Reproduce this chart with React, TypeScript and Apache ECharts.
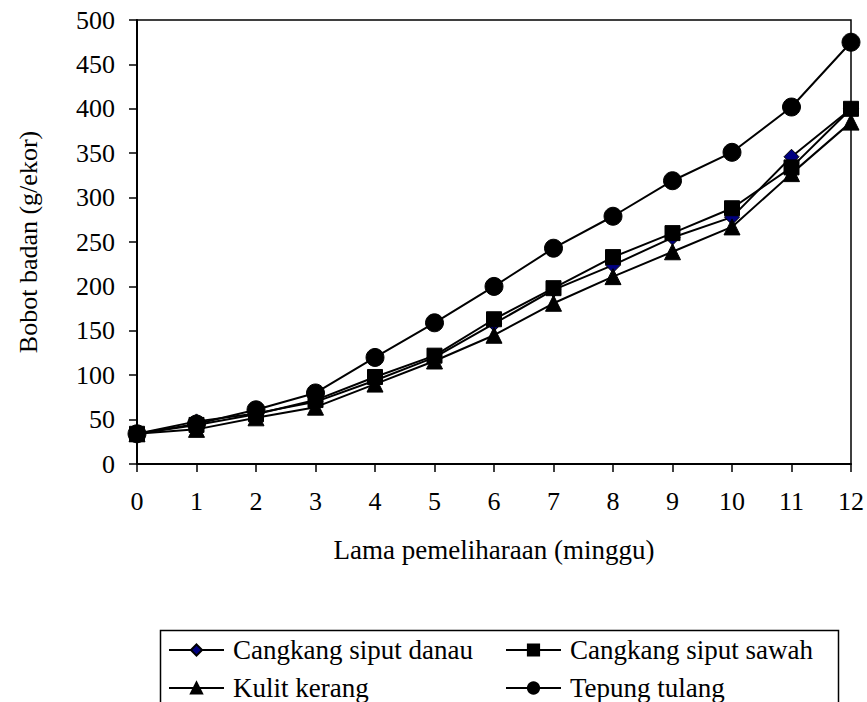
import React, { useEffect, useRef } from "react";
import * as echarts from "echarts";

const weeks = ["0", "1", "2", "3", "4", "5", "6", "7", "8", "9", "10", "11", "12"];
const danau = [34, 48, 57, 70, 94, 120, 158, 196, 224, 255, 278, 346, 400];
const sawah = [34, 44, 56, 72, 98, 122, 163, 198, 233, 260, 288, 334, 400];
const kulit = [34, 39, 52, 64, 90, 116, 145, 181, 211, 239, 267, 327, 385];
const tepung = [34, 45, 61, 80, 120, 159, 200, 243, 279, 319, 351, 402, 475];

const seriesNames = [
  "Cangkang siput danau",
  "Cangkang siput sawah",
  "Kulit kerang",
  "Tepung tulang",
];

const FONT = "'Liberation Serif', 'Times New Roman', serif";

export default function App() {
  const ref = useRef<HTMLDivElement>(null);
  useEffect(() => {
    if (!ref.current) return;
    const chart = echarts.init(ref.current, undefined, { renderer: "svg" });
    const mkSeries = (name: string, data: number[], symbol: string, size: number, fill: string) => ({
      name,
      type: "line",
      data,
      symbol,
      symbolSize: size,
      showAllSymbol: true,
      lineStyle: { color: "#000", width: 2 },
      itemStyle: { color: fill, borderColor: "#000", borderWidth: 1 },
      emphasis: { disabled: true },
    });
    const legendBase = {
      orient: "vertical",
      padding: 0,
      itemWidth: 55,
      itemHeight: 14,
      itemGap: 10,
      textStyle: { fontFamily: FONT, fontSize: 27, color: "#000", lineHeight: 28, padding: [0, 0, 0, 4] },
      selectedMode: false,
    };
    chart.setOption({
      animation: false,
      backgroundColor: "#fff",
      grid: {
        left: 137,
        right: 15,
        top: 20,
        bottom: 238,
        show: true,
        borderColor: "#000",
        borderWidth: 1.5,
        backgroundColor: "transparent",
      },
      xAxis: {
        type: "category",
        data: weeks,
        boundaryGap: false,
        name: "Lama pemeliharaan (minggu)",
        nameLocation: "middle",
        nameGap: 72,
        nameTextStyle: { fontFamily: FONT, fontSize: 27, color: "#000" },
        axisLine: { lineStyle: { color: "#000", width: 2 } },
        axisTick: { show: true, length: 8, lineStyle: { color: "#000", width: 1.5 } },
        axisLabel: { fontFamily: FONT, fontSize: 26, color: "#000", margin: 24 },
        splitLine: { show: false },
      },
      yAxis: {
        type: "value",
        min: 0,
        max: 500,
        interval: 50,
        name: "Bobot badan (g/ekor)",
        nameLocation: "middle",
        nameRotate: 90,
        nameGap: 96,
        nameTextStyle: { fontFamily: FONT, fontSize: 26, color: "#000" },
        axisLine: { show: true, lineStyle: { color: "#000", width: 2 } },
        axisTick: { show: true, length: 8, lineStyle: { color: "#000", width: 1.5 } },
        axisLabel: { fontFamily: FONT, fontSize: 26, color: "#000", margin: 22 },
        splitLine: { show: false },
      },
      legend: [
        { ...legendBase, left: 168, top: 636, data: [seriesNames[0], seriesNames[2]] },
        { ...legendBase, left: 505, top: 636, data: [seriesNames[1], seriesNames[3]] },
      ],
      graphic: [
        {
          type: "rect",
          left: 158,
          top: 628,
          shape: { x: 0, y: 0, width: 678, height: 90 },
          style: { fill: "none", stroke: "#000", lineWidth: 1.5 },
          z: 0,
        },
      ],
      series: [
        mkSeries(seriesNames[0], danau, "diamond", 15, "#000080"),
        mkSeries(seriesNames[1], sawah, "rect", 15, "#000"),
        mkSeries(seriesNames[2], kulit, "triangle", 16, "#000"),
        mkSeries(seriesNames[3], tepung, "circle", 18, "#000"),
      ],
    });
    return () => chart.dispose();
  }, []);
  return (
    <div
      ref={ref}
      style={{ position: "fixed", left: 0, top: 0, width: 867, height: 702, background: "#fff" }}
    />
  );
}
